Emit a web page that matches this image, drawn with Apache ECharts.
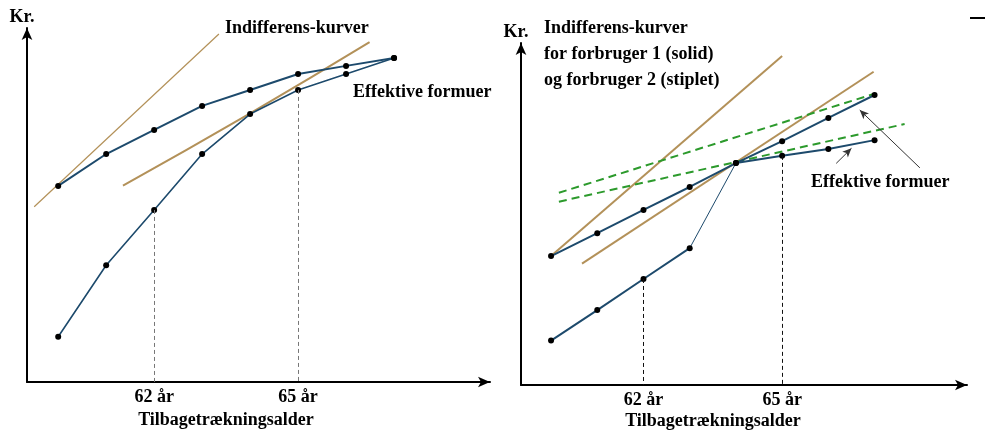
<!DOCTYPE html>
<html>
<head>
  <meta charset="utf-8" />
  <title>Tilbagetrækningsalder</title>
  <script src="https://cdn.jsdelivr.net/npm/echarts@6/dist/echarts.min.js"></script>
  <style>
    html, body { margin: 0; padding: 0; background: #fff; }
    #chart { width: 985px; height: 430px; }
  </style>
</head>
<body>
  <div id="chart"></div>
  <script>
    // alder (år) og effektive formuer (Kr., vilkårlig skala 0-100)
    var ages = [60, 61, 62, 63, 64, 65, 66, 67];
    var tickAges = [62, 65];

    var leftUpper = [55.4, 64.4, 71.2, 78.0, 82.5, 87.0, 89.3, 91.5];
    var leftLower = [12.8, 33.0, 48.6, 64.4, 75.7, 82.5, 87.0, 91.5];
    var rightUpper = [37.7, 44.4, 51.2, 57.9, 64.9, 71.3, 78.1, 84.8];
    var rightLower = [13.0, 21.9, 31.0, 40.0, 64.9, 67.0, 69.0, 71.6];

    // indifferens-kurver [alder, Kr.]
    var leftIndiff1 = [[59.5, 49.5], [63.35, 98.3]];
    var leftIndiff2 = [[61.35, 55.5], [64, 75.9], [66.49, 96.0]];
    var rightIndiff1 = [[60, 37.7], [65, 96.2]];
    var rightIndiff2 = [[60.67, 35.5], [66.98, 91.6]];
    var rightDashed1 = [[60.17, 56.2], [66.96, 85.0]];
    var rightDashed2 = [[60.17, 53.6], [67.65, 76.3]];

    // pile mod de effektive formuer
    var arrows = [
      [[67.98, 63.5], [66.68, 80.4]],
      [[66.17, 64.8], [66.50, 69.2]]
    ];

    var serif = '"Liberation Serif", "DejaVu Serif", serif';
    var navy = '#1d4a6c';
    var tan = '#b39159';
    var green = '#2c9a2c';

    function pairs(xs, ys) {
      return xs.map(function (x, i) { return [x, ys[i]]; });
    }

    function curve(idx, data, width) {
      return {
        type: 'line', xAxisIndex: idx, yAxisIndex: idx, data: data,
        symbol: 'circle', symbolSize: 6,
        itemStyle: { color: '#000' },
        lineStyle: { color: navy, width: width },
        z: 4
      };
    }

    function plain(idx, data, color, width, type, smooth) {
      return {
        type: 'line', xAxisIndex: idx, yAxisIndex: idx, data: data,
        showSymbol: false, smooth: !!smooth,
        lineStyle: { color: color, width: width, type: type || 'solid' },
        z: 3
      };
    }

    function dropLines(xs, ys, color) {
      return {
        silent: true, symbol: 'none', label: { show: false },
        lineStyle: { color: color, width: 1, type: [4, 3] },
        data: xs.map(function (x, i) {
          return [{ coord: [x, ys[i]] }, { coord: [x, 0] }];
        })
      };
    }

    var chart = echarts.init(document.getElementById('chart'));

    function xAxis(idx) {
      return {
        type: 'value', gridIndex: idx, min: 59.35, max: 69,
        axisLine: { lineStyle: { color: '#000', width: 2 }, symbol: ['none', 'arrow'], symbolSize: [8, 12] },
        axisTick: { show: false },
        splitLine: { show: false },
        axisLabel: {
          customValues: tickAges, margin: 6,
          formatter: function (v) { return v + ' år'; },
          color: '#000', fontFamily: serif, fontWeight: 'bold', fontSize: 18
        }
      };
    }

    function yAxis(idx) {
      return {
        type: 'value', gridIndex: idx, min: 0, max: 100,
        name: 'Kr.', nameLocation: 'end', nameGap: 2,
        nameTextStyle: { color: '#000', fontFamily: serif, fontWeight: 'bold', fontSize: 18, padding: [0, 10, 0, 0] },
        axisLine: { show: true, lineStyle: { color: '#000', width: 2 }, symbol: ['none', 'arrow'], symbolSize: [8, 12] },
        axisTick: { show: false },
        axisLabel: { show: false },
        splitLine: { show: false }
      };
    }

    var leftLowerSeries = curve(0, pairs(ages, leftLower), 1.6);
    leftLowerSeries.markLine = dropLines(tickAges, [leftLower[2], leftLower[5]], '#777');

    var rightLowerA = curve(1, pairs(ages.slice(0, 4), rightLower.slice(0, 4)), 2);
    rightLowerA.markLine = dropLines(tickAges, [rightLower[2], rightLower[5]], '#111');
    var rightLowerB = plain(1, pairs(ages.slice(3, 5), rightLower.slice(3, 5)), navy, 1, 'solid');
    var rightLowerC = curve(1, pairs(ages.slice(4), rightLower.slice(4)), 2);
    rightLowerC.markLine = {
      silent: true, label: { show: false },
      symbol: ['none', 'arrow'], symbolSize: [6, 9],
      lineStyle: { color: '#333', width: 1, type: 'solid' },
      data: arrows.map(function (a) {
        return [{ coord: a[0] }, { coord: a[1] }];
      })
    };

    function text(str, x, y, align) {
      return {
        type: 'text', x: x, y: y,
        style: {
          text: str, fill: '#000', font: 'bold 18px ' + serif,
          textAlign: align || 'left', textVerticalAlign: 'middle'
        }
      };
    }

    var option = {
      animation: false,
      backgroundColor: '#fff',
      grid: [
        { left: 27, top: 28, width: 463, height: 354 },
        { left: 521, top: 43, width: 446, height: 342 }
      ],
      xAxis: [xAxis(0), xAxis(1)],
      yAxis: [yAxis(0), yAxis(1)],
      series: [
        plain(0, leftIndiff1, tan, 1.2),
        plain(0, leftIndiff2, tan, 2, 'solid', true),
        curve(0, pairs(ages, leftUpper), 2),
        leftLowerSeries,

        plain(1, rightIndiff1, tan, 2),
        plain(1, rightIndiff2, tan, 2),
        plain(1, rightDashed1, green, 2, [8, 5]),
        plain(1, rightDashed2, green, 2, [8, 5]),
        curve(1, pairs(ages, rightUpper), 2),
        rightLowerA,
        rightLowerB,
        rightLowerC
      ],
      graphic: [
        text('Indifferens-kurver', 225, 28),
        text('Effektive formuer', 353, 92),
        text('Tilbagetrækningsalder', 226, 420, 'center'),
        text('Indifferens-kurver', 544, 28),
        text('for forbruger 1 (solid)', 544, 54),
        text('og forbruger 2 (stiplet)', 544, 80),
        text('Effektive formuer', 811, 182),
        text('Tilbagetrækningsalder', 713, 421, 'center'),
        { type: 'line', shape: { x1: 970, y1: 18, x2: 985, y2: 18 }, style: { stroke: '#000', lineWidth: 2 } }
      ]
    };

    chart.setOption(option);
  </script>
</body>
</html>
